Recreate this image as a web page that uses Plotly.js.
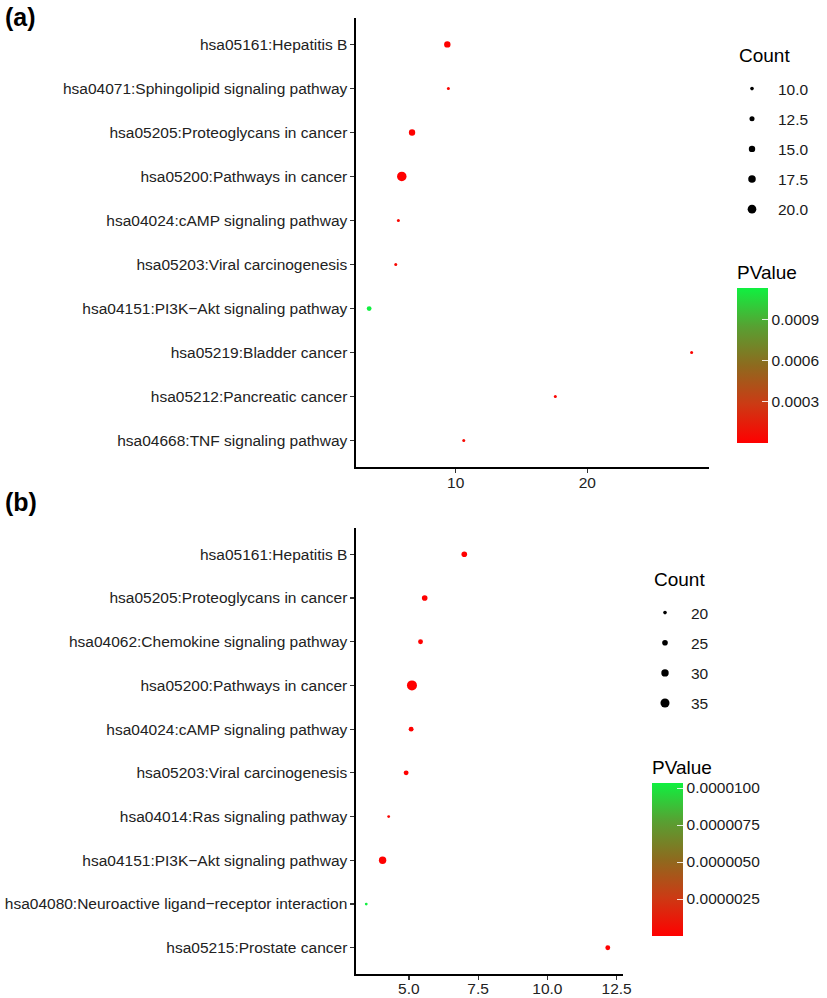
<!DOCTYPE html>
<html>
<head>
<meta charset="utf-8">
<script src="https://cdn.plot.ly/plotly-3.0.1.min.js"></script>
<style>html,body{margin:0;padding:0;background:#fff;}#chart{width:827px;height:998px;}</style>
</head>
<body>
<div id="chart"></div>
<script>
// ---------- Panel (a) data ----------
var termsA = ["hsa05161:Hepatitis B","hsa04071:Sphingolipid signaling pathway","hsa05205:Proteoglycans in cancer","hsa05200:Pathways in cancer","hsa04024:cAMP signaling pathway","hsa05203:Viral carcinogenesis","hsa04151:PI3K\u2212Akt signaling pathway","hsa05219:Bladder cancer","hsa05212:Pancreatic cancer","hsa04668:TNF signaling pathway"];
var foldA  = [9.36, 9.44, 6.68, 5.90, 5.64, 5.44, 3.42, 27.93, 17.57, 10.61];
var countA = [15, 9, 15, 22, 9, 9, 12, 9, 9, 9];
var pvalA  = [0.000004, 0.000030, 0.000006, 0.0000002, 0.000035, 0.000040, 0.00113, 0.000020, 0.000025, 0.000045];
var sizeBreaksA = [10, 12.5, 15, 17.5, 20];
var sizeLabelsA = ["10.0","12.5","15.0","17.5","20.0"];
var pTicksA = [0.0003, 0.0006, 0.0009];

// ---------- Panel (b) data ----------
var termsB = ["hsa05161:Hepatitis B","hsa05205:Proteoglycans in cancer","hsa04062:Chemokine signaling pathway","hsa05200:Pathways in cancer","hsa04024:cAMP signaling pathway","hsa05203:Viral carcinogenesis","hsa04014:Ras signaling pathway","hsa04151:PI3K\u2212Akt signaling pathway","hsa04080:Neuroactive ligand\u2212receptor interaction","hsa05215:Prostate cancer"];
var foldB  = [7.00, 5.57, 5.42, 5.11, 5.08, 4.90, 4.27, 4.05, 3.46, 12.18];
var countB = [25, 25, 23, 38, 23, 23, 18, 30, 18, 23];
var pvalB  = [1e-10, 2e-11, 5e-9, 1e-14, 3e-8, 6e-9, 2e-7, 1e-10, 1.034e-5, 4e-11];
var sizeBreaksB = [20, 25, 30, 35];
var sizeLabelsB = ["20","25","30","35"];
var pTicksB = [0.0000025, 0.000005, 0.0000075, 0.00001];

// ---------- helpers ----------
function sizeScale(counts, dmin, dmax) {
  var lo = Math.min.apply(null, counts), hi = Math.max.apply(null, counts);
  return function (c) {
    return dmin + (dmax - dmin) * (Math.sqrt(c) - Math.sqrt(lo)) / (Math.sqrt(hi) - Math.sqrt(lo));
  };
}
var sA = sizeScale(countA, 3, 9.5);
var sB = sizeScale(countB, 2.8, 10);

var cscale = [[0, '#FF0000'], [0.25, '#CC3A14'], [0.5, '#8E6A1E'], [0.75, '#58A032'], [1, '#10F040']];
var FONT = 'Liberation Sans, Arial, sans-serif';
var NB = '\u00a0\u00a0\u00a0';

var W = 827, H = 998;
function px(x) { return x / W; }
function py(y) { return 1 - y / H; }

var traces = [];
traces.push({
  type: 'scatter', mode: 'markers', x: foldA, y: termsA, xaxis: 'x', yaxis: 'y', showlegend: false,
  hoverinfo: 'x+y',
  marker: {
    size: countA.map(sA), color: pvalA, colorscale: cscale,
    cmin: Math.min.apply(null, pvalA), cmax: Math.max.apply(null, pvalA),
    line: {width: 0}, opacity: 1,
    colorbar: {
      title: {text: 'PValue', side: 'top', font: {size: 19, color: '#000', family: FONT}},
      thickness: 31, thicknessmode: 'pixels', len: 181, lenmode: 'pixels',
      x: px(737), xanchor: 'left', xpad: 0, y: py(262), yanchor: 'top', ypad: 0,
      outlinewidth: 0, tickvals: pTicksA, tickformat: '.4f', tickprefix: NB,
      ticks: 'inside', ticklen: 6, tickcolor: 'rgba(255,255,255,0.85)', tickwidth: 1,
      tickfont: {size: 15.5, color: '#1a1a1a', family: FONT}
    }
  }
});
traces.push({
  type: 'scatter', mode: 'markers', x: foldB, y: termsB, xaxis: 'x2', yaxis: 'y2', showlegend: false,
  hoverinfo: 'x+y',
  marker: {
    size: countB.map(sB), color: pvalB, colorscale: cscale,
    cmin: Math.min.apply(null, pvalB), cmax: Math.max.apply(null, pvalB),
    line: {width: 0}, opacity: 1,
    colorbar: {
      title: {text: 'PValue', side: 'top', font: {size: 19, color: '#000', family: FONT}},
      thickness: 31, thicknessmode: 'pixels', len: 179, lenmode: 'pixels',
      x: px(652), xanchor: 'left', xpad: 0, y: py(757), yanchor: 'top', ypad: 0,
      outlinewidth: 0, tickvals: pTicksB, tickformat: '.7f', tickprefix: NB,
      ticks: 'inside', ticklen: 6, tickcolor: 'rgba(255,255,255,0.85)', tickwidth: 1,
      tickfont: {size: 15.5, color: '#1a1a1a', family: FONT}
    }
  }
});
// size legend entries
sizeBreaksA.forEach(function (b, i) {
  traces.push({type: 'scatter', mode: 'markers', x: [null], y: [null], xaxis: 'x', yaxis: 'y',
    name: sizeLabelsA[i], legend: 'legend', legendgroup: 'a' + i, showlegend: true, hoverinfo: 'skip',
    marker: {size: sA(b), color: '#000', line: {width: 0}}});
});
sizeBreaksB.forEach(function (b, i) {
  traces.push({type: 'scatter', mode: 'markers', x: [null], y: [null], xaxis: 'x2', yaxis: 'y2',
    name: sizeLabelsB[i], legend: 'legend2', legendgroup: 'b' + i, showlegend: true, hoverinfo: 'skip',
    marker: {size: sB(b), color: '#000', line: {width: 0}}});
});

var axisCommon = {
  showline: true, linecolor: '#000', linewidth: 1.6, showgrid: false, zeroline: false,
  ticks: 'outside', ticklen: 4, tickwidth: 1.2, tickcolor: '#333',
  tickfont: {size: 15.5, color: '#222', family: FONT}
};
function ax(o) { var r = {}; for (var k in axisCommon) r[k] = axisCommon[k]; for (var k2 in o) r[k2] = o[k2]; return r; }

var legendCommon = {xanchor: 'left', yanchor: 'top', bgcolor: 'rgba(0,0,0,0)', itemwidth: 42,
  font: {size: 15.5, color: '#1a1a1a', family: FONT}, traceorder: 'grouped', tracegroupgap: 7, itemclick: false};
function lg(o) { var r = {}; for (var k in legendCommon) r[k] = legendCommon[k]; for (var k2 in o) r[k2] = o[k2]; return r; }

var layout = {
  width: W, height: H, margin: {l: 0, r: 0, t: 0, b: 0},
  paper_bgcolor: '#fff', plot_bgcolor: '#fff',
  font: {family: FONT, color: '#000'},
  xaxis: ax({domain: [px(356), px(709)], anchor: 'y', range: [2.42, 29.25], tickvals: [10, 20], tickformat: 'd', ticklabelstandoff: -3}),
  yaxis: ax({domain: [py(467), py(18)], anchor: 'x', type: 'category', categoryorder: 'array', categoryarray: termsA, range: [9.6, -0.6]}),
  xaxis2: ax({domain: [px(356), px(623)], anchor: 'y2', range: [3.09, 12.73], tickvals: [5, 7.5, 10, 12.5], tickformat: '.1f', ticklabelstandoff: -4}),
  yaxis2: ax({domain: [py(974), py(528)], anchor: 'x2', type: 'category', categoryorder: 'array', categoryarray: termsB, range: [9.6, -0.6]}),
  legend: lg({x: px(726), y: py(72)}),
  legend2: lg({x: px(639), y: py(596)}),
  annotations: [
    {text: '<b>(a)</b>', xref: 'paper', yref: 'paper', x: px(3), y: py(17), xanchor: 'left', yanchor: 'middle', showarrow: false, font: {size: 25, color: '#000', family: FONT}},
    {text: '<b>(b)</b>', xref: 'paper', yref: 'paper', x: px(3), y: py(502), xanchor: 'left', yanchor: 'middle', showarrow: false, font: {size: 25, color: '#000', family: FONT}},
    {text: 'Count', xref: 'paper', yref: 'paper', x: px(737), y: py(55), xanchor: 'left', yanchor: 'middle', showarrow: false, font: {size: 19, color: '#000', family: FONT}},
    {text: 'Count', xref: 'paper', yref: 'paper', x: px(652), y: py(579), xanchor: 'left', yanchor: 'middle', showarrow: false, font: {size: 19, color: '#000', family: FONT}}
  ]
};

Plotly.newPlot('chart', traces, layout, {displayModeBar: false, staticPlot: true});
</script>
</body>
</html>
